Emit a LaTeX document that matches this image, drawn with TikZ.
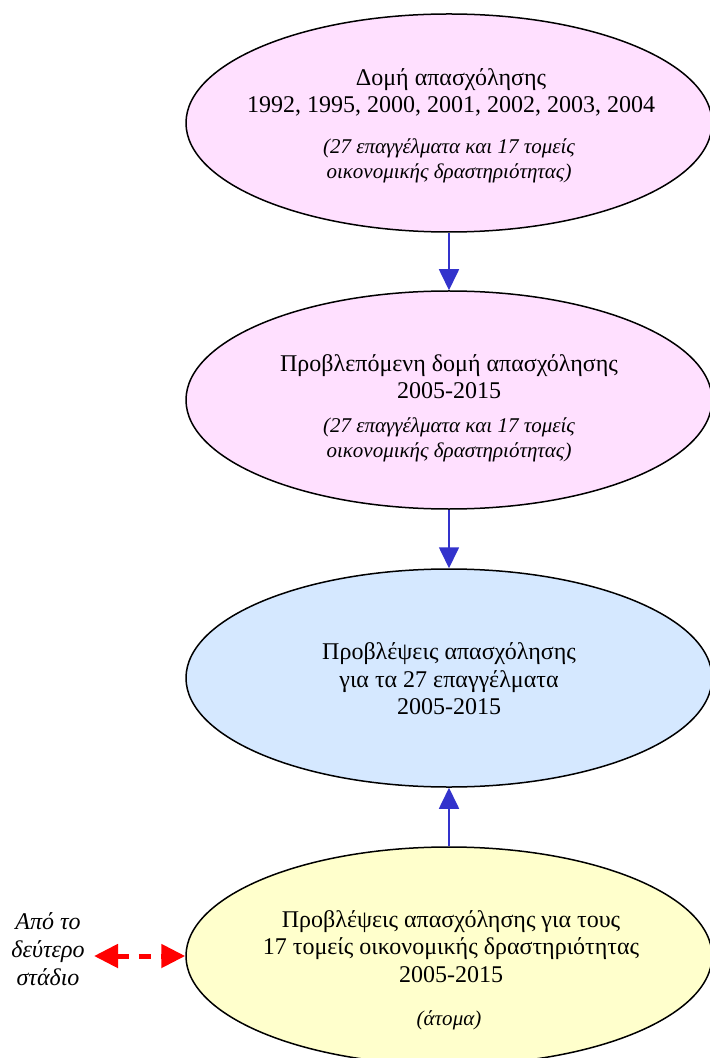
\documentclass[tikz,border=0pt]{standalone}
\usepackage{fontspec}
\setmainfont{Liberation Serif}
\usetikzlibrary{arrows.meta,positioning,shapes.geometric}
\definecolor{pinkfill}{RGB}{255,224,255}
\definecolor{bluefill}{RGB}{213,232,255}
\definecolor{yellowfill}{RGB}{255,255,204}
\definecolor{flowblue}{RGB}{51,51,204}
\definecolor{linkred}{RGB}{255,0,0}

\begin{document}
\begin{tikzpicture}[x=0.5pt,y=-0.5pt,
    stage/.style={ellipse,draw=black,line width=0.75pt,minimum width=263pt,minimum height=109pt,inner sep=0pt},
    maintext/.style={align=center,font=\fontsize{12}{13.8}\selectfont},
    subtext/.style={align=center,font=\fontsize{10.5}{12.3}\selectfont\itshape},
    flow/.style={draw=flowblue,line width=0.85pt,-{Triangle[length=10.5pt,width=10pt]}},
    link/.style={draw=linkred,line width=2.5pt,dash pattern=on 6pt off 5pt,
      {Triangle[length=12pt,width=11.5pt]}-{Triangle[length=12pt,width=11.5pt]}}]
    \useasboundingbox (0,0) rectangle (709,1058);
    % the four stages
    \node[stage,fill=pinkfill] (structure) at (449,123) {};
    \node[stage,fill=pinkfill] (forecast) at (449,400) {};
    \node[stage,fill=bluefill] (occupations) at (449,678) {};
    \node[stage,fill=yellowfill] (sectors) at (449,956) {};
    % texts
    \node[maintext] (structuretxt) at (451,92.5){Δομή απασχόλησης\\1992, 1995, 2000, 2001, 2002, 2003, 2004};
    \node[subtext] (structuresub) at (449,161){(27 επαγγέλματα και 17 τομείς\\οικονομικής δραστηριότητας)};
    \node[maintext] (forecasttxt) at (449,376.5){Προβλεπόμενη δομή απασχόλησης\\2005-2015};
    \node[subtext] (forecastsub) at (449,440){(27 επαγγέλματα και 17 τομείς\\οικονομικής δραστηριότητας)};
    \node[maintext] (occupationstxt) at (449,679){Προβλέψεις απασχόλησης\\για τα 27 επαγγέλματα\\2005-2015};
    \node[maintext] (sectorstxt) at (451,946.5){Προβλέψεις απασχόλησης για τους\\17 τομείς οικονομικής δραστηριότητας\\2005-2015};
    \node[subtext] (sectorssub) at (449,1020){(άτομα)};
    \node[maintext,font=\fontsize{12}{14}\selectfont\itshape] (second) at (48,949){Από το\\δεύτερο\\στάδιο};
    \coordinate (secondtip) at (94,956);
    % connectors
    \draw[flow] (structure.south) -- (forecast.north);
    \draw[flow] (forecast.south) -- (occupations.north);
    \draw[flow] (sectors.north) -- (occupations.south);
    \draw[link] (secondtip) -- (sectors.west);
  \end{tikzpicture}
\end{document}
